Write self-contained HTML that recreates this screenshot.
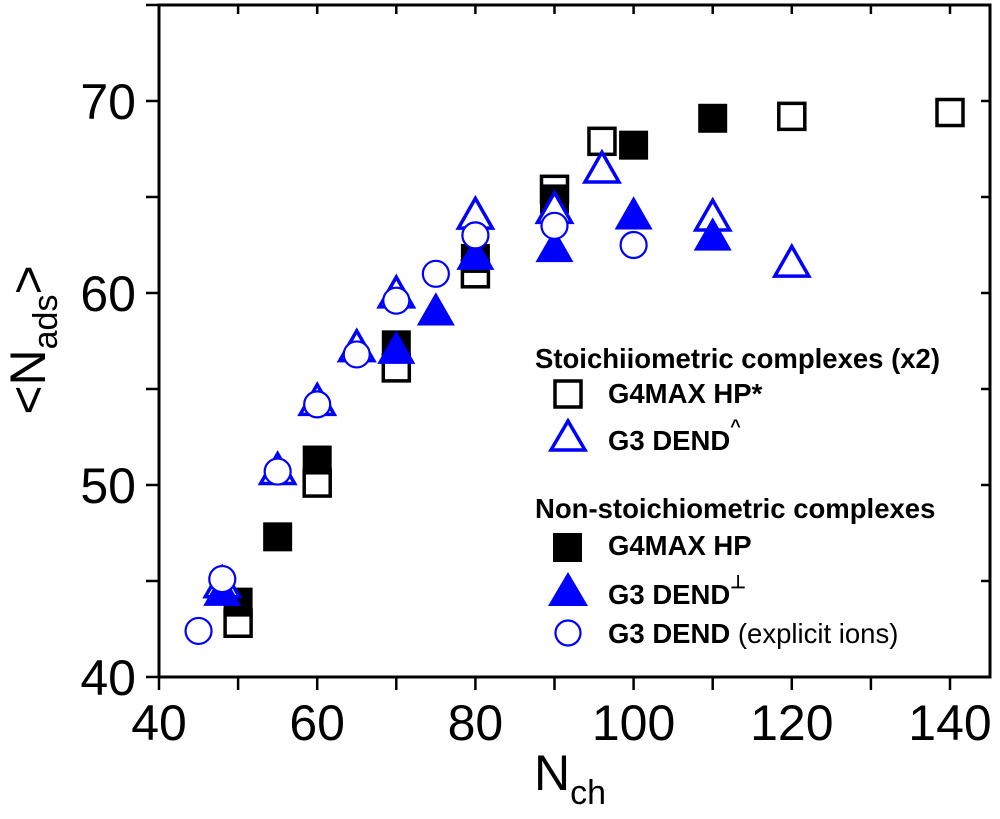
<!DOCTYPE html>
<html><head><meta charset="utf-8"><style>body{margin:0;background:#fff}svg{display:block;font-family:"Liberation Sans",Arial,sans-serif}</style></head>
<body>
<svg id="chart" width="1000" height="819" viewBox="0 0 1000 819" xmlns="http://www.w3.org/2000/svg">
<g id="axes"></g>
<g id="marks"></g>
<text transform="translate(45,340) rotate(-90)" text-anchor="middle" font-size="50">&lt;N<tspan font-size="34" dy="12">ads</tspan><tspan dy="-12">&gt;</tspan></text>
<text x="534" y="790" font-size="50">N<tspan font-size="34" dy="14">ch</tspan></text>
<g font-weight="bold" font-size="27.5">
<text x="535" y="368">Stoichiiometric complexes (x2)</text>
<rect x="555" y="381" width="26" height="26" fill="#fff" stroke="#000" stroke-width="3.5"/>
<text x="608" y="403">G4MAX HP*</text>
<polygon points="568,421 585,450 551,450" fill="#fff" stroke="#00f" stroke-width="3.5"/>
<text x="608" y="450">G3 DEND<tspan font-size="18" dy="-18">^</tspan></text>
<text x="535" y="518">Non-stoichiometric complexes</text>
<rect x="553" y="533" width="29" height="29" fill="#000"/>
<text x="608" y="555">G4MAX HP</text>
<polygon points="568,572 588,606 548,606" fill="#00f"/>
<text x="608" y="604">G3 DEND<tspan font-size="18" dy="-16">⊥</tspan></text>
<circle cx="568" cy="633" r="12.5" fill="#fff" stroke="#00f" stroke-width="2.2"/>
<text x="608" y="643">G3 DEND <tspan font-weight="normal" font-size="27.5">(explicit ions)</tspan></text>
</g>
</svg>
<script>
const openSqX=[50,60,70,80,90,96,120,140];
const openSqY=[42.8,50.1,56.1,61.0,65.4,67.9,69.2,69.4];
const fillSqX=[50,55,60,70,80,90,100,110];
const fillSqY=[43.9,47.3,51.3,57.3,61.8,64.9,67.7,69.1];
const openTriX=[48,55,60,65,70,80,90,96,110,120];
const openTriY=[44.8,50.7,54.3,57.1,59.9,64.0,64.3,66.4,63.9,61.5];
const fillTriX=[48,70,75,80,90,100,110];
const fillTriY=[44.4,57.0,59.0,61.9,62.3,64.0,62.9];
const circX=[45,48,55,60,65,70,75,80,90,100];
const circY=[42.4,45.1,50.7,54.2,56.8,59.6,61.0,63.0,63.5,62.5];
const xTicks=[40,60,80,100,120,140];
const yTicks=[40,50,60,70];
const L=159,R=990,T=5,B=677;
const xs=v=>L+(v-40)*7.91;
const ys=v=>B-(v-40)*19.2;
const NS='http://www.w3.org/2000/svg';
function mk(tag,attrs,parent){const e=document.createElementNS(NS,tag);for(const k in attrs)e.setAttribute(k,attrs[k]);parent.appendChild(e);return e;}
const ax=document.getElementById('axes');
const frame=mk('rect',{x:L,y:T,width:R-L,height:B-T,fill:'none',stroke:'#000','stroke-width':3},ax);


for(let v=40;v<=145;v+=10){const x=xs(v);
mk('line',{x1:x,y1:B,x2:x,y2:B+13,stroke:'#000','stroke-width':2.5},ax);
mk('line',{x1:x,y1:T,x2:x,y2:T+9,stroke:'#000','stroke-width':2.5},ax);}
for(let v=40;v<=75;v+=5){const y=ys(v);
mk('line',{x1:L,y1:y,x2:L-13,y2:y,stroke:'#000','stroke-width':2.5},ax);
mk('line',{x1:R,y1:y,x2:R-9,y2:y,stroke:'#000','stroke-width':2.5},ax);}
xTicks.forEach(v=>{const t=mk('text',{x:xs(v),y:740,'text-anchor':'middle','font-size':50},ax);t.textContent=v;

});
yTicks.forEach(v=>{const t=mk('text',{x:136,y:ys(v)+18,'text-anchor':'end','font-size':50},ax);t.textContent=v;

});
const m=document.getElementById('marks');
const tri=(x,y,s)=>`${x},${y-s*1.05} ${x+s},${y+s*0.7} ${x-s},${y+s*0.7}`;
openSqX.forEach((v,i)=>{const e=mk('rect',{x:xs(v)-13,y:ys(openSqY[i])-13,width:26,height:26,fill:'#fff',stroke:'#000','stroke-width':3.5},m);

});
fillSqX.forEach((v,i)=>{const e=mk('rect',{x:xs(v)-14.5,y:ys(fillSqY[i])-14.5,width:29,height:29,fill:'#000'},m);

});
openTriX.forEach((v,i)=>{const e=mk('polygon',{points:tri(xs(v),ys(openTriY[i]),17),fill:'#fff',stroke:'#00f','stroke-width':3.5},m);

});
fillTriX.forEach((v,i)=>{const e=mk('polygon',{points:tri(xs(v),ys(fillTriY[i]),19),fill:'#00f'},m);

});
circX.forEach((v,i)=>{const e=mk('circle',{cx:xs(v),cy:ys(circY[i]),r:13,fill:'#fff',stroke:'#00f','stroke-width':2.2},m);

});
</script>
</body></html>
